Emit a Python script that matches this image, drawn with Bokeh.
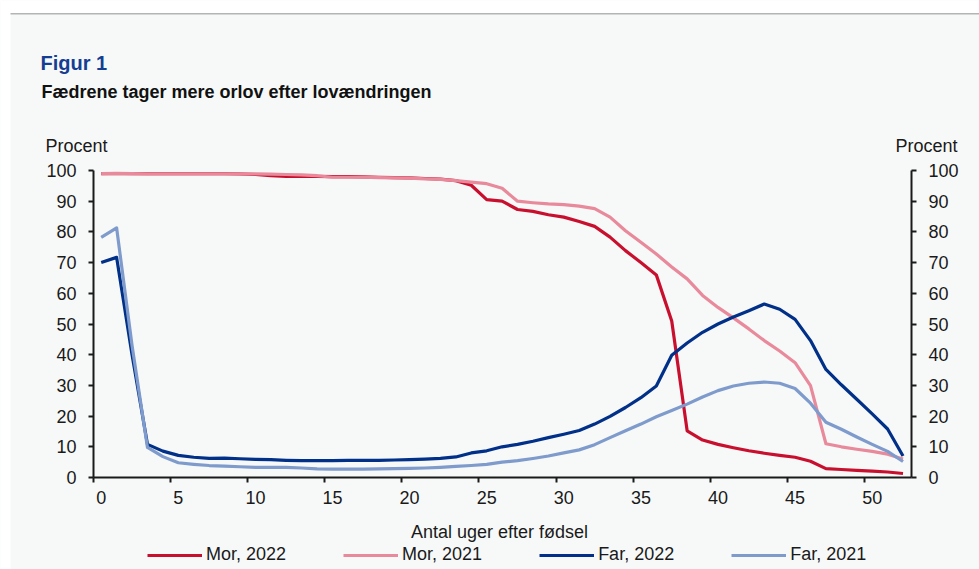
from bokeh.plotting import figure
from bokeh.models import (Range1d, LinearAxis, FixedTicker, Legend, LegendItem,
                          Label, BoxAnnotation)
from bokeh.embed import file_html
from bokeh.resources import INLINE

# ---------------- data ----------------
weeks = list(range(0, 53))

mor_2022 = [99, 99, 99, 99, 99, 99, 99, 99, 99, 98.9,
            98.7, 98.3, 98.1, 98.1, 98.1, 98.0, 98.0, 97.9, 97.8, 97.7,
            97.6, 97.4, 97.2, 96.7, 95.2, 90.5, 90.0, 87.3, 86.7, 85.6,
            84.8, 83.4, 81.8, 78.3, 73.9, 70.0, 66.0, 51.0, 15.2, 12.2,
            10.8, 9.7, 8.7, 7.9, 7.2, 6.6, 5.3, 2.9, 2.6, 2.3,
            2.1, 1.8, 1.3]

mor_2021 = [99, 99.1, 99, 98.9, 98.9, 98.9, 98.9, 98.9, 98.9, 98.9,
            98.9, 98.8, 98.7, 98.6, 98.3, 97.8, 97.8, 97.8, 97.7, 97.6,
            97.5, 97.3, 97.1, 96.7, 96.2, 95.7, 94.2, 90.0, 89.5, 89.1,
            88.9, 88.4, 87.6, 84.8, 80.4, 76.6, 72.8, 68.6, 64.7, 59.3,
            55.4, 52.0, 48.4, 44.6, 41.2, 37.4, 29.9, 11.0, 10.0, 9.2,
            8.5, 7.6, 6.0]

far_2022 = [70.0, 71.7, 40.0, 10.8, 8.6, 7.2, 6.6, 6.2, 6.3, 6.1,
            5.9, 5.8, 5.6, 5.5, 5.5, 5.5, 5.6, 5.6, 5.6, 5.7,
            5.8, 6.0, 6.2, 6.7, 8.0, 8.7, 10.0, 10.8, 11.8, 13.0,
            14.1, 15.3, 17.4, 19.9, 22.8, 26.0, 29.8, 39.8, 43.8, 47.3,
            50.0, 52.3, 54.3, 56.5, 54.8, 51.5, 44.6, 35.2, 30.2, 25.5,
            20.7, 15.8, 7.0]

far_2021 = [78.2, 81.3, 43.0, 9.8, 6.8, 4.8, 4.3, 3.9, 3.7, 3.5,
            3.3, 3.3, 3.3, 3.1, 2.8, 2.7, 2.7, 2.7, 2.8, 2.9,
            3.0, 3.1, 3.3, 3.6, 3.9, 4.3, 5.0, 5.5, 6.2, 7.0,
            8.0, 9.0, 10.7, 13.0, 15.2, 17.4, 19.8, 21.8, 23.9, 26.2,
            28.3, 29.8, 30.7, 31.1, 30.7, 29.0, 24.2, 18.0, 15.7, 13.2,
            10.8, 8.5, 5.2]

series_names = ["Mor, 2022", "Mor, 2021", "Far, 2022", "Far, 2021"]
series_colors = ["#c8102e", "#e88a9b", "#003087", "#7e9bcc"]
y_ticks = [0, 10, 20, 30, 40, 50, 60, 70, 80, 90, 100]
x_tick_labels = [0, 5, 10, 15, 20, 25, 30, 35, 40, 45, 50]

title_text = "Figur 1"
subtitle_text = "Fædrene tager mere orlov efter lovændringen"
y_unit = "Procent"
x_title = "Antal uger efter fødsel"

FONT = "Liberation Sans"
BG = "#f7f9f9"
TXT = "#1a1a1a"

# ---------------- layout geometry (pixels) ----------------
W, H = 979, 569
AX_L, AX_R, AX_B, AX_T = 93, 911, 477, 170      # plot-area edges
X0, X1 = -0.5, 52.55                             # week span of the axis
Y0, Y1 = 0, 100
sx = (AX_R - AX_L) / (X1 - X0)
sy = (AX_B - AX_T) / (Y1 - Y0)
x_range = Range1d(X0 - AX_L / sx, X1 + (W - AX_R) / sx)
y_range = Range1d(Y0 - (H - AX_B) / sy, Y1 + AX_T / sy)

p = figure(width=W, height=H, output_backend="svg", toolbar_location=None,
           x_range=x_range, y_range=y_range, x_axis_type=None, y_axis_type=None,
           min_border=0)
p.background_fill_color = BG
p.border_fill_color = BG
p.outline_line_color = None
p.grid.visible = False

# x axis: labels at category centres, ticks at boundaries
xa = LinearAxis(fixed_location=Y0, bounds=(X0, X1))
xa.ticker = FixedTicker(ticks=x_tick_labels,
                        minor_ticks=[t - 0.5 for t in x_tick_labels])
xa.major_tick_line_color = None
xa.major_tick_out = 5
xa.major_tick_in = 0
xa.minor_tick_out = 5
xa.minor_tick_in = 0
xa.minor_tick_line_width = 2
xa.minor_tick_line_color = TXT
xa.axis_line_width = 2
xa.axis_line_color = TXT
xa.major_label_standoff = 8
xa.major_label_text_font = FONT
xa.major_label_text_font_size = "18px"
xa.major_label_text_color = TXT
p.add_layout(xa, "below")

def make_y(loc):
    ax = LinearAxis(fixed_location=loc, bounds=(Y0, Y1))
    ax.ticker = FixedTicker(ticks=y_ticks)
    ax.major_tick_out = 5
    ax.major_tick_in = 0
    ax.minor_tick_line_color = None
    ax.major_tick_line_width = 2
    ax.major_tick_line_color = TXT
    ax.axis_line_width = 2
    ax.axis_line_color = TXT
    ax.major_label_standoff = 12
    ax.major_label_text_font = FONT
    ax.major_label_text_font_size = "18px"
    ax.major_label_text_color = TXT
    return ax

p.add_layout(make_y(X0), "left")
p.add_layout(make_y(X1), "right")

# ---------------- page frame decoration ----------------
def box(l, r, t, b, color):
    p.add_layout(BoxAnnotation(left=l, right=r, top=H - t, bottom=H - b,
                               left_units="screen", right_units="screen",
                               top_units="screen", bottom_units="screen",
                               fill_color=color, fill_alpha=1, line_color=None,
                               level="underlay"))

box(0, W, 0, 13, "white")
box(0, 10, 0, H, "white")
box(10, W, 12.5, 14, "#b4b4b4")

# ---------------- lines ----------------
renderers = []
for vals, col in zip([mor_2022, mor_2021, far_2022, far_2021], series_colors):
    r = p.line(weeks, vals, line_color=col, line_width=3.2, line_join="round")
    renderers.append(r)

legend = Legend(items=[LegendItem(label=n, renderers=[r])
                       for n, r in zip(series_names, renderers)],
                location=(147, 4), orientation="horizontal",
                glyph_width=55, glyph_height=16, label_height=16,
                label_standoff=4, spacing=57, padding=0, margin=0,
                border_line_color=None, background_fill_alpha=0,
                label_text_font=FONT, label_text_font_size="18px",
                label_text_color=TXT)
p.add_layout(legend)

# ---------------- texts ----------------
def lab(text, x, y_top_down, size, bold=False, color=TXT, align="left"):
    p.add_layout(Label(x=x, y=H - y_top_down, x_units="screen", y_units="screen",
                       text=text, text_font=FONT, text_font_size=size,
                       text_font_style="bold" if bold else "normal",
                       text_color=color, text_align=align,
                       text_baseline="alphabetic"))

lab(title_text, 40, 62.5, "20px", bold=True, color="#153e92")
lab(subtitle_text, 41, 91.5, "18px", bold=True, color="#111111")
lab(y_unit, 45, 145.5, "18px")
lab(y_unit, 895, 145.5, "18px")
lab(x_title, 499, 531.5, "18px", align="center")

open("out.html", "w").write(file_html(p, INLINE))
